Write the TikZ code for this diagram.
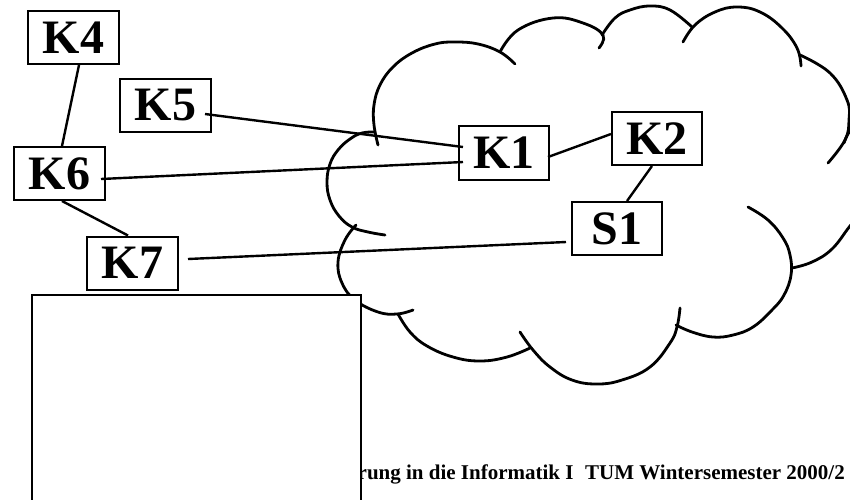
\documentclass[tikz,border=0pt]{standalone}
\usepackage{fontspec}
\setmainfont{Liberation Serif}
\begin{document}
\begin{tikzpicture}[x=1pt,y=-1pt,
  kbox/.style={draw,line width=2pt,fill=white,minimum width=91pt,minimum height=53pt,
    inner sep=0pt,font=\fontsize{48}{48}\selectfont\bfseries},
  link/.style={line width=2.4pt},
  lobe/.style={line width=2.8pt,line cap=round,line join=round}]
\useasboundingbox (0,0) rectangle (850,499);
\clip (0,0) rectangle (850,499);

% cloud outline, lobe by lobe
\draw[lobe] plot[smooth,tension=0.7] coordinates {(378,145) (374,125) (374,105) (380,85) (393,67) (412,53) (435,44) (455,42) (478,44) (500,52) (515,64)};
\draw[lobe] plot[smooth,tension=0.7] coordinates {(500,52) (518,30) (553,18) (583,23) (603,35) (599,48)};
\draw[lobe] plot[smooth,tension=0.7] coordinates {(602,35) (615,18) (630,10) (650,6) (670,10) (692,27)};
\draw[lobe] plot[smooth,tension=0.7] coordinates {(683,42) (695,25) (715,12) (737,7) (760,12) (782,28) (797,48) (801,66)};
\draw[lobe] plot[smooth,tension=0.7] coordinates {(800,55) (830,73) (847,100) (849,120) (845,140) (828,163)};
\draw[lobe] plot[smooth,tension=0.7] coordinates {(844,143) (856,128) (880,150) (884,190) (864,210) (850,226) (832,249) (812,262) (792,268)};
\draw[lobe] plot[smooth,tension=0.7] coordinates {(748,207) (768,220) (783,238) (790,255) (791,275) (784,295) (772,310) (753,327) (733,335) (713,337) (692,332) (676,325)};
\draw[lobe] plot[smooth,tension=0.7] coordinates {(680,308) (677,327) (670,343) (650,367) (622,380) (597,384) (572,380) (550,367) (533,350) (520,332)};
\draw[lobe] plot[smooth,tension=0.7] coordinates {(530,348) (507,357) (480,361) (453,357) (427,346) (410,332) (398,314)};
\draw[lobe] plot[smooth,tension=0.7] coordinates {(356,225) (345,240) (338,262) (342,283) (355,300) (378,312) (397,314) (413,310)};
\draw[lobe] plot[smooth,tension=0.7] coordinates {(385,235) (368,232) (352,227) (339,216) (330,200) (327,182) (330,164) (338,150) (350,139) (362,133) (375,132)};

% nodes
\node[kbox] (K4) at (73.5,37.5) {K4};
\node[kbox] (K5) at (165.5,105.5) {K5};
\node[kbox] (K6) at (59.5,173.5) {K6};
\node[kbox] (K7) at (132.5,263) {K7};
\node[kbox,minimum width=90pt,minimum height=54pt] (K1) at (504,153) {K1};
\node[kbox,minimum width=90pt] (K2) at (657,138.5) {K2};
\node[kbox,minimum width=90pt] (S1) at (617,228.5) {S1};

% connections
\draw[link] ([xshift=5.5pt]K4.south) -- ([xshift=2.5pt]K6.north);
\draw[link] ([xshift=-7pt,yshift=-8.5pt]K5.east) -- ([xshift=5pt,yshift=6pt]K1.west);
\draw[link] ([xshift=-5pt,yshift=-5.5pt]K6.east) -- ([xshift=5pt,yshift=-9pt]K1.west);
\draw[link] ([xshift=2.5pt]K6.south) -- ([xshift=-4.5pt]K7.north);
\draw[link] ([xshift=9pt,yshift=4pt]K7.east) -- ([xshift=-5pt,yshift=-13.5pt]S1.west);
\draw[link] ([xshift=-2pt,yshift=-4pt]K1.east) -- ([yshift=4.5pt]K2.west);
\draw[link] ([xshift=-5pt]K2.south) -- ([xshift=10pt]S1.north);

% footer line
\node[anchor=base east,inner sep=0pt,font=\fontsize{21}{21}\selectfont\bfseries] (foot) at (845,479)
  {rung in die Informatik I\hspace{0.3em} TUM Wintersemester 2000/2};

% blank panel in front
\draw[line width=2.5pt,fill=white] (32,295) rectangle (361,520);
\end{tikzpicture}
\end{document}
